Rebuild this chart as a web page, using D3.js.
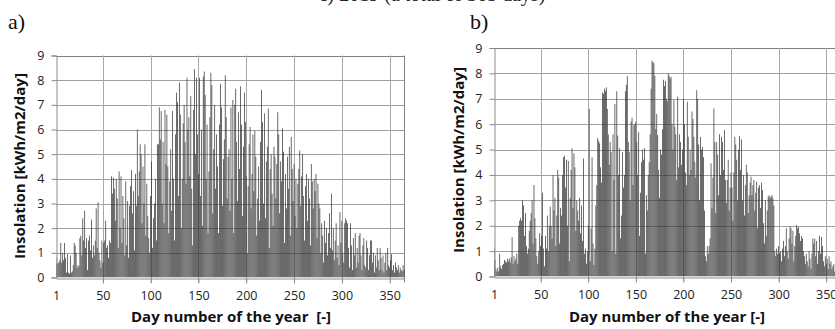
<!DOCTYPE html>
<html>
<head>
<meta charset="utf-8">
<script src="https://cdn.jsdelivr.net/npm/d3@7"></script>
<style>
    html, body { margin: 0; padding: 0; background: white; }
    svg { display: block; }
</style>
</head>
<body>
<div id="viz_canvas"></div>
<script>
"use strict";

// daily insolation, kWh/m2/day
var insolationA = [
    0.8,0.55,0.6,0.6,0.7,1.4,0.6,1.0,0.7,1.4,
    0.8,0.2,0.95,0.2,0.15,0.9,0.2,0.25,0.5,1.4,
    1.3,1.0,0.4,0.5,0.45,1.6,1.7,0.9,2.4,1.5,
    2.7,1.2,1.6,0.3,1.5,1.7,1.1,2.35,0.8,1.3,
    0.9,1.5,2.8,1.2,3.05,1.0,0.7,0.4,1.5,0.6,
    1.4,1.5,2.3,1.2,1.3,0.8,1.5,1.4,4.1,3.4,
    4.05,3.6,2.3,4.0,3.2,1.2,4.3,2.0,4.1,1.4,
    3.3,2.4,0.9,3.9,1.3,3.1,0.8,2.9,3.7,4.35,
    2.6,3.5,1.1,4.2,2.9,6.0,3.3,4.3,5.4,5.0,
    2.2,4.5,3.0,5.4,1.7,3.8,2.5,1.6,1.0,3.3,
    4.7,1.2,2.4,3.0,4.0,1.5,5.4,5.4,6.9,5.6,
    6.75,3.0,5.5,2.2,6.8,4.6,6.6,4.5,1.8,3.9,
    5.2,2.7,6.75,4.0,1.5,5.8,7.5,7.1,3.3,7.9,
    6.6,2.0,4.0,6.25,7.0,5.5,3.8,8.1,6.0,6.5,
    4.1,7.35,3.6,1.3,6.8,8.45,5.0,8.1,5.8,4.2,
    8.1,3.3,6.0,2.1,8.15,8.35,7.4,4.0,6.2,1.8,
    4.3,6.5,8.3,7.8,2.6,5.2,7.0,3.6,5.8,4.5,
    1.8,6.2,7.85,6.9,2.9,4.8,5.6,8.2,6.5,3.2,
    4.9,5.2,2.7,6.9,4.0,7.2,1.8,7.0,7.65,5.5,
    3.1,6.7,4.4,7.75,6.2,2.5,5.3,7.5,6.3,4.1,
    1.0,3.7,5.4,6.1,2.8,4.2,5.8,3.5,5.95,4.9,
    1.7,3.2,4.5,2.3,5.5,7.6,6.3,3.0,6.65,2.4,
    4.7,5.3,6.85,1.2,4.4,5.0,3.4,2.1,5.3,4.9,
    3.2,4.6,6.7,5.8,2.6,4.7,3.9,6.05,5.1,1.4,
    4.2,2.8,4.9,3.6,5.3,1.7,5.7,4.4,3.1,4.6,
    2.5,4.0,2.0,3.8,4.4,5.15,2.9,4.1,5.0,3.3,
    1.5,3.7,4.2,2.3,4.0,3.2,1.3,4.6,3.9,2.8,
    4.0,3.5,4.2,1.6,3.8,3.0,2.8,1.0,2.2,1.7,
    0.6,2.3,1.4,2.0,0.9,1.8,2.6,1.2,3.4,1.1,
    2.0,0.7,1.5,2.2,0.8,1.3,0.5,2.65,1.4,2.3,
    1.0,0.6,2.2,2.4,2.3,2.2,1.2,0.4,2.2,1.3,
    0.3,1.6,0.9,1.8,0.4,1.2,0.6,1.7,1.8,0.9,
    0.3,1.3,1.6,0.5,0.4,1.5,1.2,0.3,0.9,1.5,
    1.5,0.6,1.0,0.2,0.9,0.4,1.2,0.7,0.3,1.2,
    0.8,0.3,0.9,0.2,0.6,1.0,0.3,1.2,0.5,0.4,
    0.7,0.95,0.3,0.5,0.2,0.6,0.4,0.3,0.5,0.2,
    0.4,0.3,0.25,0.5,0.3
];

var insolationB = [
    1.15,0.65,0.3,0.2,0.35,0.2,0.9,0.4,0.3,0.45,
    0.5,0.65,0.6,0.55,0.7,0.6,0.7,0.55,0.75,1.55,
    0.5,0.8,0.6,0.7,0.9,0.5,2.0,2.2,2.3,2.2,
    3.0,2.8,1.6,2.5,1.2,0.9,1.1,1.8,2.2,2.5,
    3.0,1.3,3.6,2.3,1.5,0.8,0.5,1.0,1.7,1.2,
    1.6,3.3,1.1,0.4,1.6,1.1,2.4,1.0,2.0,2.75,
    2.0,1.5,4.0,2.6,3.1,1.2,2.4,4.2,3.9,1.3,
    2.7,2.4,4.0,4.7,4.75,3.5,4.6,2.0,4.55,0.6,
    3.1,4.2,5.05,2.7,4.85,4.3,1.8,3.0,2.6,2.2,
    3.1,1.7,2.8,1.4,4.65,0.9,1.1,0.5,1.0,2.0,
    6.6,0.6,1.9,4.7,1.3,0.45,1.1,2.8,3.6,5.45,
    5.35,5.25,4.3,3.7,7.25,7.2,7.4,7.3,7.45,6.6,
    5.6,4.4,5.3,4.9,1.0,5.6,3.8,6.8,0.9,7.3,
    5.55,4.0,5.05,1.5,2.4,4.9,3.5,4.0,7.3,7.55,
    7.9,5.3,4.9,3.0,6.1,6.25,3.6,5.95,6.0,6.1,
    5.3,4.0,5.7,1.6,3.3,4.5,5.0,4.6,5.05,0.9,
    3.2,2.6,4.0,4.5,5.6,7.4,8.5,8.45,8.4,7.9,
    5.8,6.4,5.57,4.2,3.1,5.0,4.8,5.8,7.75,7.5,
    7.7,7.0,6.9,8.0,7.9,7.8,7.86,6.0,5.0,6.95,
    5.9,5.6,3.8,7.08,4.3,5.6,5.3,4.4,5.0,7.0,
    6.0,4.1,3.6,6.88,5.5,4.0,5.0,4.2,6.5,6.2,
    5.5,4.5,3.9,7.34,7.0,5.2,3.0,5.5,5.0,5.1,
    4.7,2.6,0.8,0.6,1.2,0.9,1.2,1.5,4.46,2.7,
    3.9,6.62,5.3,2.5,5.3,4.8,3.2,5.6,4.0,5.5,
    5.3,4.2,5.77,3.8,2.9,3.8,4.6,2.6,3.5,4.1,
    3.5,2.2,4.1,5.5,5.2,4.6,3.0,5.0,5.53,4.2,
    5.4,3.0,4.0,2.4,3.6,4.4,4.1,2.5,3.2,3.7,
    3.93,3.2,3.6,3.8,2.6,3.3,3.74,1.9,3.5,3.6,
    2.7,3.7,3.4,2.1,1.3,3.0,1.6,2.6,3.15,3.2,
    3.1,3.15,3.2,3.1,2.8,1.0,0.8,1.1,0.9,1.2,
    0.9,1.0,0.6,1.1,1.4,0.8,1.2,1.9,1.0,0.7,
    1.5,1.97,1.9,1.3,1.8,0.6,1.2,1.6,2.03,1.9,
    1.95,1.7,1.4,1.6,1.5,1.0,0.8,0.5,0.9,0.6,
    0.4,1.0,0.7,0.3,0.9,1.5,1.3,1.5,0.8,1.4,
    0.5,1.0,1.6,0.9,1.55,1.2,0.6,0.4,0.8,0.5,
    0.7,0.3,0.8,0.5,0.6,0.3,0.4,0.5,0.2,0.4,
    0.3,0.5,0.2,0.3,0.4
];

var dayTicks = [1, 50, 100, 150, 200, 250, 300, 350];
var valueTicks = [0, 1, 2, 3, 4, 5, 6, 7, 8, 9];
var panelLetters = ["a)", "b)"];
var yTitle = "Insolation [kWh/m2/day]";
var xTitles = ["Day number of the year  [-]", "Day number of the year [-]"];
var topTitle = "c) 2019 (a total of 365 days)";

var width = 835, height = 329;
var svg = d3.select("#viz_canvas").append("svg")
    .attr("width", width)
    .attr("height", height);

var sans = "'Open Sans', 'DejaVu Sans', sans-serif";
var serif = "'Liberation Serif', 'DejaVu Serif', serif";

// caption above the figure, only its lower edge shows
svg.append("text")
    .attr("x", 432).attr("y", 1)
    .attr("text-anchor", "middle")
    .style("font-family", serif)
    .style("font-size", "20px")
    .style("fill", "#222")
    .text(topTitle);

var panels = [
    { data: insolationA, left: 56, right: 404, top: 55.5, bottom: 277.5, letterX: 8, yTitleX: 20, yTitleY: 166, xTitleX: 231 },
    { data: insolationB, left: 494, right: 840.5, top: 48, bottom: 276.5, letterX: 470, yTitleX: 459, yTitleY: 160, xTitleX: 667 }
];

panels.forEach(function (p, i) { drawPanel(p, i); });

function drawPanel(p, i) {
    var g = svg.append("g");
    var days = d3.range(1, p.data.length + 1);

    var x = d3.scaleLinear().domain([1, 365]).range([p.left, p.right]);
    var y = d3.scaleLinear().domain([0, 9]).range([p.bottom, p.top]);
    var step = x(2) - x(1);

    var clipId = "clip" + i;
    svg.append("clipPath").attr("id", clipId)
        .append("rect")
        .attr("x", p.left).attr("y", p.top - 1)
        .attr("width", p.right - p.left + 1)
        .attr("height", p.bottom - p.top + 1);

    // gridlines
    g.append("g")
        .selectAll("line")
        .data(valueTicks.slice(1))
        .enter().append("line")
        .attr("x1", p.left).attr("x2", p.right)
        .attr("y1", d => Math.round(y(d)) + 0.5)
        .attr("y2", d => Math.round(y(d)) + 0.5)
        .attr("stroke", d => d === 9 ? "#7f7f7f" : "#a0a0a0");

    g.append("g")
        .selectAll("line")
        .data(dayTicks.slice(1).concat([365]))
        .enter().append("line")
        .attr("x1", d => Math.round(x(d)) + 0.5)
        .attr("x2", d => Math.round(x(d)) + 0.5)
        .attr("y1", p.top).attr("y2", p.bottom + 5)
        .attr("stroke", d => d === 365 ? "#7f7f7f" : "#a8a8a8");

    // bars
    g.append("g")
        .attr("clip-path", "url(#" + clipId + ")")
        .selectAll("rect")
        .data(days)
        .enter().append("rect")
        .attr("x", d => x(d) - step * 0.38)
        .attr("width", step * 0.76)
        .attr("y", d => y(p.data[d - 1]))
        .attr("height", d => y(0) - y(p.data[d - 1]))
        .attr("fill", "#333");

    // axes
    var yAxis = d3.axisLeft(y).tickValues(valueTicks).tickSize(5).tickPadding(7);
    var yg = g.append("g")
        .attr("transform", "translate(" + (Math.round(p.left) + 0.5) + ",0)")
        .call(yAxis);
    var xAxis = d3.axisBottom(x).tickValues(dayTicks).tickSize(5).tickSizeOuter(0).tickPadding(8);
    var xg = g.append("g")
        .attr("transform", "translate(0," + (Math.round(p.bottom) + 0.5) + ")")
        .call(xAxis);

    [yg, xg].forEach(function (ax) {
        ax.select(".domain").attr("stroke", "#8c8c8c");
        ax.selectAll(".tick line").attr("stroke", "#8c8c8c");
        ax.selectAll(".tick text")
            .style("font-family", sans)
            .style("font-size", "12.5px")
            .attr("fill", "#222");
    });
    xg.selectAll(".tick").filter(d => d === 1).select("line").remove();

    // titles
    svg.append("text")
        .attr("transform", "translate(" + p.yTitleX + "," + p.yTitleY + ") rotate(-90)")
        .attr("text-anchor", "middle")
        .attr("dy", "0.35em")
        .style("font-family", sans)
        .style("font-weight", "bold")
        .style("font-size", "15px")
        .style("fill", "#111")
        .text(yTitle);

    svg.append("text")
        .attr("x", p.xTitleX).attr("y", 322)
        .attr("text-anchor", "middle")
        .style("font-family", sans)
        .style("font-weight", "bold")
        .style("font-size", "15px")
        .style("white-space", "pre")
        .style("fill", "#111")
        .text(xTitles[i]);

    svg.append("text")
        .attr("x", p.letterX).attr("y", 29)
        .style("font-family", serif)
        .style("font-size", "22px")
        .style("fill", "#111")
        .text(panelLetters[i]);
}
</script>
</body>
</html>
